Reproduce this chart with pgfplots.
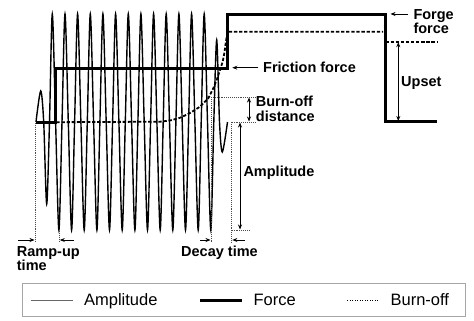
\documentclass[border=0pt]{standalone}
\usepackage{pgfplots}
\pgfplotsset{compat=1.18}
\usepackage{fontspec}
\setmainfont{Liberation Sans}
\usetikzlibrary{arrows.meta}

\begin{document}
\begin{tikzpicture}[
  lbl/.style={font=\bfseries\fontsize{14.5}{16}\selectfont, inner sep=0pt, anchor=base west},
  guide/.style={line width=0.8pt, black!70, dash pattern=on 0.8pt off 1.1pt},
  dim/.style={line width=0.8pt, -{Stealth[length=5pt,width=4pt]}},
  ddim/.style={line width=0.8pt, {Stealth[length=5pt,width=4pt]}-{Stealth[length=5pt,width=4pt]}},
]
\begin{axis}[
  scale only axis, width=474pt, height=321pt,
  xmin=0, xmax=474, ymin=0, ymax=321, y dir=reverse,
  hide axis, clip=false,
  legend cell align=left,
  legend columns=3,
  legend style={at={(axis cs:22,283)}, anchor=north west,
    draw=black!35, line width=0.7pt,
    inner xsep=8pt, inner ysep=10pt,
    font=\fontsize{16.5}{18}\selectfont,
    nodes={inner sep=0pt}, column sep=0pt},
]
% oscillation amplitude: ramp-up, steady oscillation, decay
\addplot[black, line width=1.4pt, smooth, tension=0.5,
  legend image code/.code={\draw[black!60, line width=0.8pt] (0pt,0pt) -- (42pt,0pt);}]
  coordinates {
  (36,122) (40.7,91) (43.7,122) (46.7,204) (49.5,122)
  (52.3,14) (55.6,122) (58.9,230) (62.0,122)
  (65.0,14) (68.3,122) (71.6,230) (74.6,122)
  (77.6,14) (80.9,122) (84.2,230) (87.3,122)
  (90.3,14) (93.6,122) (96.9,230) (99.9,122)
  (102.9,14) (106.2,122) (109.5,230) (112.6,122)
  (115.6,14) (118.9,122) (122.2,230) (125.3,122)
  (128.3,14) (131.6,122) (134.9,230) (137.9,122)
  (140.9,14) (144.2,122) (147.5,230) (150.6,122)
  (153.6,14) (156.9,122) (160.2,230) (163.2,122)
  (166.2,14) (169.5,122) (172.8,230) (175.9,122)
  (178.9,14) (182.2,122) (185.5,230) (188.6,122)
  (191.6,14) (194.9,122) (198.2,230) (201.2,122)
  (204.2,14) (207.5,122) (210.8,230) (213.8,122)
  (216.7,40) (219.5,122) (222.3,152) (227.5,122)
  };
\addlegendentry{\kern11pt Amplitude\kern41pt}

% applied force: friction phase then forge phase
\addplot[black, line width=3pt, line join=miter,
  legend image code/.code={\draw[black, line width=3pt] (0pt,0pt) -- (42pt,0pt);}]
  coordinates {
  (36,122) (55,122) (55,68.3) (227,68.3) (227,14.5)
  (385.5,14.5) (385.5,121.7) (437,121.7)
  };
\addlegendentry{\kern10pt Force\kern51pt}

% burn-off (axial shortening)
\addplot[black, line width=1.8pt, dash pattern=on 3.3pt off 1.8pt,
  legend image code/.code={\draw[black, line width=0.9pt, dash pattern=on 1pt off 1.5pt] (0pt,0pt) -- (32pt,0pt);}]
  coordinates {
  (36,122.3) (160,121.7) (170,120.5) (180,117.8) (190,113)
  (200,106.7) (208.3,98.3) (213.3,88.3) (217.3,78.3) (220,70)
  (222.7,61.7) (224.3,53.3) (225.5,45) (226.5,38) (228,31.7) (383,31.7)
  };
\addlegendentry{\kern11pt Burn-off\kern8pt}

\addplot[black, line width=1.8pt, dash pattern=on 3.3pt off 1.8pt, forget plot]
  coordinates {(385.5,41.7) (437,41.7)};

% guide lines
\draw[guide] (axis cs:35,123) -- (axis cs:35,242);
\draw[guide] (axis cs:59,231) -- (axis cs:59,242);
\draw[guide] (axis cs:211,97) -- (axis cs:211,242);
\draw[guide] (axis cs:231.7,122) -- (axis cs:231.7,242);
\draw[guide] (axis cs:211,97) -- (axis cs:255,97);
\draw[guide] (axis cs:231.7,122) -- (axis cs:255,122);
\draw[guide] (axis cs:231.7,230) -- (axis cs:249,230);

% dimension arrows
\draw[dim] (axis cs:18.3,240) -- (axis cs:34.5,240);
\draw[dim] (axis cs:74,240) -- (axis cs:59.8,240);
\draw[dim] (axis cs:200,240) -- (axis cs:210.5,240);
\draw[dim] (axis cs:245,240) -- (axis cs:232.3,240);
\draw[ddim] (axis cs:249,97.5) -- (axis cs:249,121.5);
\draw[ddim] (axis cs:240,122.5) -- (axis cs:240,229.5);
\draw[ddim] (axis cs:398.3,42.2) -- (axis cs:398.3,121);
\draw[dim] (axis cs:258.3,67.7) -- (axis cs:232.3,67.7);
\draw[dim] (axis cs:408,14) -- (axis cs:390.5,14);

% labels
\node[lbl] at (axis cs:16.7,256.7) {Ramp-up};
\node[lbl] at (axis cs:16.7,270) {time};
\node[lbl] at (axis cs:181,256.7) {Decay time};
\node[lbl] at (axis cs:243.3,176.7) {Amplitude};
\node[lbl] at (axis cs:255.7,106.7) {Burn-off};
\node[lbl] at (axis cs:255.7,121.7) {distance};
\node[lbl] at (axis cs:263,72.3) {Friction force};
\node[lbl] at (axis cs:413.3,19.3) {Forge};
\node[lbl] at (axis cs:413.3,33.3) {force};
\node[lbl] at (axis cs:401,86) {Upset};

\path (axis cs:0,0) rectangle (axis cs:474,321);
\end{axis}
\end{tikzpicture}
\end{document}
